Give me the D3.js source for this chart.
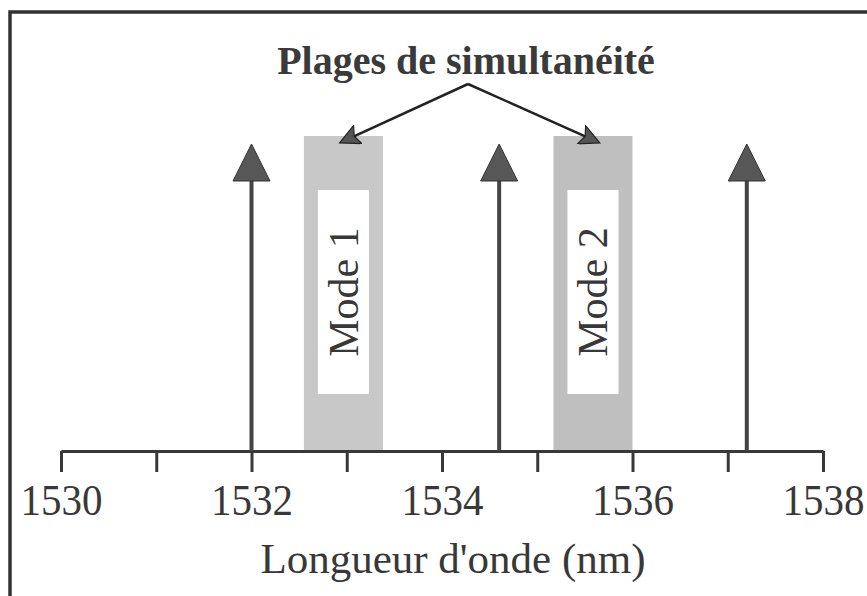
<!DOCTYPE html>
<html>
<head>
<meta charset="utf-8">
<script src="https://cdn.jsdelivr.net/npm/d3@7"></script>
<style>
  body { margin: 0; background: #fff; }
  svg { display: block; }
</style>
</head>
<body>
<div id="chart"></div>
<script>
// longitudinal modes (nm) and their relative amplitude
const modeLines = [1532.0, 1534.6, 1537.2];
const modeAmp = [1, 1, 1];

// simultaneity ranges (nm)
const bandStart = [1532.55, 1535.17];
const bandEnd = [1533.38, 1536.0];
const bandLabels = ["Mode 1", "Mode 2"];
const bandFill = ["#c8c8c8", "#bfbfbf"];

const tickValues = [1530, 1531, 1532, 1533, 1534, 1535, 1536, 1537, 1538];
const xTitle = "Longueur d'onde (nm)";
const annTitle = "Plages de simultanéité";

const W = 867, H = 596;
const serif = "'Liberation Serif', 'Times New Roman', serif";
const ink = "#383838";

const svg = d3.select("#chart")
    .append("svg")
    .attr("width", W)
    .attr("height", H);

// frame (right and bottom edges fall outside the picture)
svg.append("rect")
    .attr("x", 10)
    .attr("y", 12)
    .attr("width", W + 20)
    .attr("height", H + 20)
    .attr("fill", "none")
    .attr("stroke", "#333")
    .attr("stroke-width", 3.5);

const x = d3.scaleLinear()
    .domain([1530, 1538])
    .range([61, 823]);

const y = d3.scaleLinear()
    .domain([0, 1])
    .range([451, 144]);

const defs = svg.append("defs");
defs.append("marker")
    .attr("id", "ann-head")
    .attr("viewBox", "0 0 10 10")
    .attr("refX", 9)
    .attr("refY", 5)
    .attr("markerWidth", 10)
    .attr("markerHeight", 8)
    .attr("markerUnits", "strokeWidth")
    .attr("orient", "auto")
    .append("path")
    .attr("d", "M0,0 L10,5 L0,10 L2,5 Z")
    .attr("fill", "#555")
    .attr("stroke", "#222")
    .attr("stroke-width", 0.6);

// gray bands
const bands = bandStart.map((s, i) => ({ s: s, e: bandEnd[i], label: bandLabels[i], fill: bandFill[i] }));
const bandTop = y(1.026);
const innerTop = 190, innerBottom = 394, inset = 14;

svg.selectAll(".band")
    .data(bands)
    .join("rect")
    .attr("class", "band")
    .attr("x", d => x(d.s))
    .attr("y", bandTop)
    .attr("width", d => x(d.e) - x(d.s))
    .attr("height", y(0) - bandTop)
    .attr("fill", d => d.fill);

svg.selectAll(".inner")
    .data(bands)
    .join("rect")
    .attr("class", "inner")
    .attr("x", d => x(d.s) + inset)
    .attr("y", innerTop)
    .attr("width", d => x(d.e) - x(d.s) - 2 * inset)
    .attr("height", innerBottom - innerTop)
    .attr("fill", "#fff");

svg.selectAll(".band-label")
    .data(bands)
    .join("text")
    .attr("class", "band-label")
    .attr("transform", d => `translate(${(x(d.s) + x(d.e)) / 2},${(innerTop + innerBottom) / 2}) rotate(-90)`)
    .attr("text-anchor", "middle")
    .attr("dy", "0.34em")
    .style("font-family", serif)
    .style("font-size", "42px")
    .attr("fill", ink)
    .text(d => d.label);

// axis
const axis = svg.append("g")
    .attr("transform", `translate(0,${y(0)})`)
    .call(d3.axisBottom(x)
        .tickValues(tickValues)
        .tickSize(21)
        .tickSizeOuter(0)
        .tickPadding(12)
        .tickFormat(d => d % 2 === 0 ? d : ""));

axis.select(".domain")
    .attr("stroke", ink)
    .attr("stroke-width", 3);
axis.selectAll(".tick line")
    .attr("stroke", ink)
    .attr("stroke-width", 3);
// labels in the source are slightly tall, stretch them a bit from the baseline
axis.selectAll(".tick text")
    .attr("y", null)
    .attr("dy", null)
    .attr("transform", "translate(0,64) scale(1,1.08)")
    .style("font-family", serif)
    .style("font-size", "41px")
    .attr("fill", ink);

svg.append("text")
    .attr("x", x(1534) + 11)
    .attr("y", 573)
    .attr("text-anchor", "middle")
    .style("font-family", serif)
    .style("font-size", "43px")
    .attr("fill", ink)
    .text(xTitle);

// mode lines with arrow heads
const modes = modeLines.map((m, i) => ({ m: m, a: modeAmp[i] }));
const headLen = 37, headHalf = 18.5;

svg.selectAll(".mode-line")
    .data(modes)
    .join("line")
    .attr("class", "mode-line")
    .attr("x1", d => x(d.m))
    .attr("x2", d => x(d.m))
    .attr("y1", y(0))
    .attr("y2", d => y(d.a) + headLen - 2)
    .attr("stroke", "#454545")
    .attr("stroke-width", 4);

svg.selectAll(".mode-head")
    .data(modes)
    .join("path")
    .attr("class", "mode-head")
    .attr("d", d => {
        const cx = x(d.m), top = y(d.a);
        return `M${cx},${top} L${cx + headHalf},${top + headLen} L${cx - headHalf},${top + headLen} Z`;
    })
    .attr("fill", "#575757")
    .attr("stroke", "#333")
    .attr("stroke-width", 1);

// annotation
svg.append("text")
    .attr("x", 466)
    .attr("y", 74)
    .attr("text-anchor", "middle")
    .style("font-family", serif)
    .style("font-size", "40px")
    .style("font-weight", "bold")
    .attr("fill", "#3a3a3a")
    .text(annTitle);

const apex = [468, 84];
svg.selectAll(".ann")
    .data(bands)
    .join("line")
    .attr("class", "ann")
    .attr("x1", apex[0])
    .attr("y1", apex[1])
    .attr("x2", d => (x(d.s) + x(d.e)) / 2 + (d.s < 1534 ? -2 : 5))
    .attr("y2", bandTop + 6)
    .attr("stroke", "#222")
    .attr("stroke-width", 2.5)
    .attr("marker-end", "url(#ann-head)");
</script>
</body>
</html>
